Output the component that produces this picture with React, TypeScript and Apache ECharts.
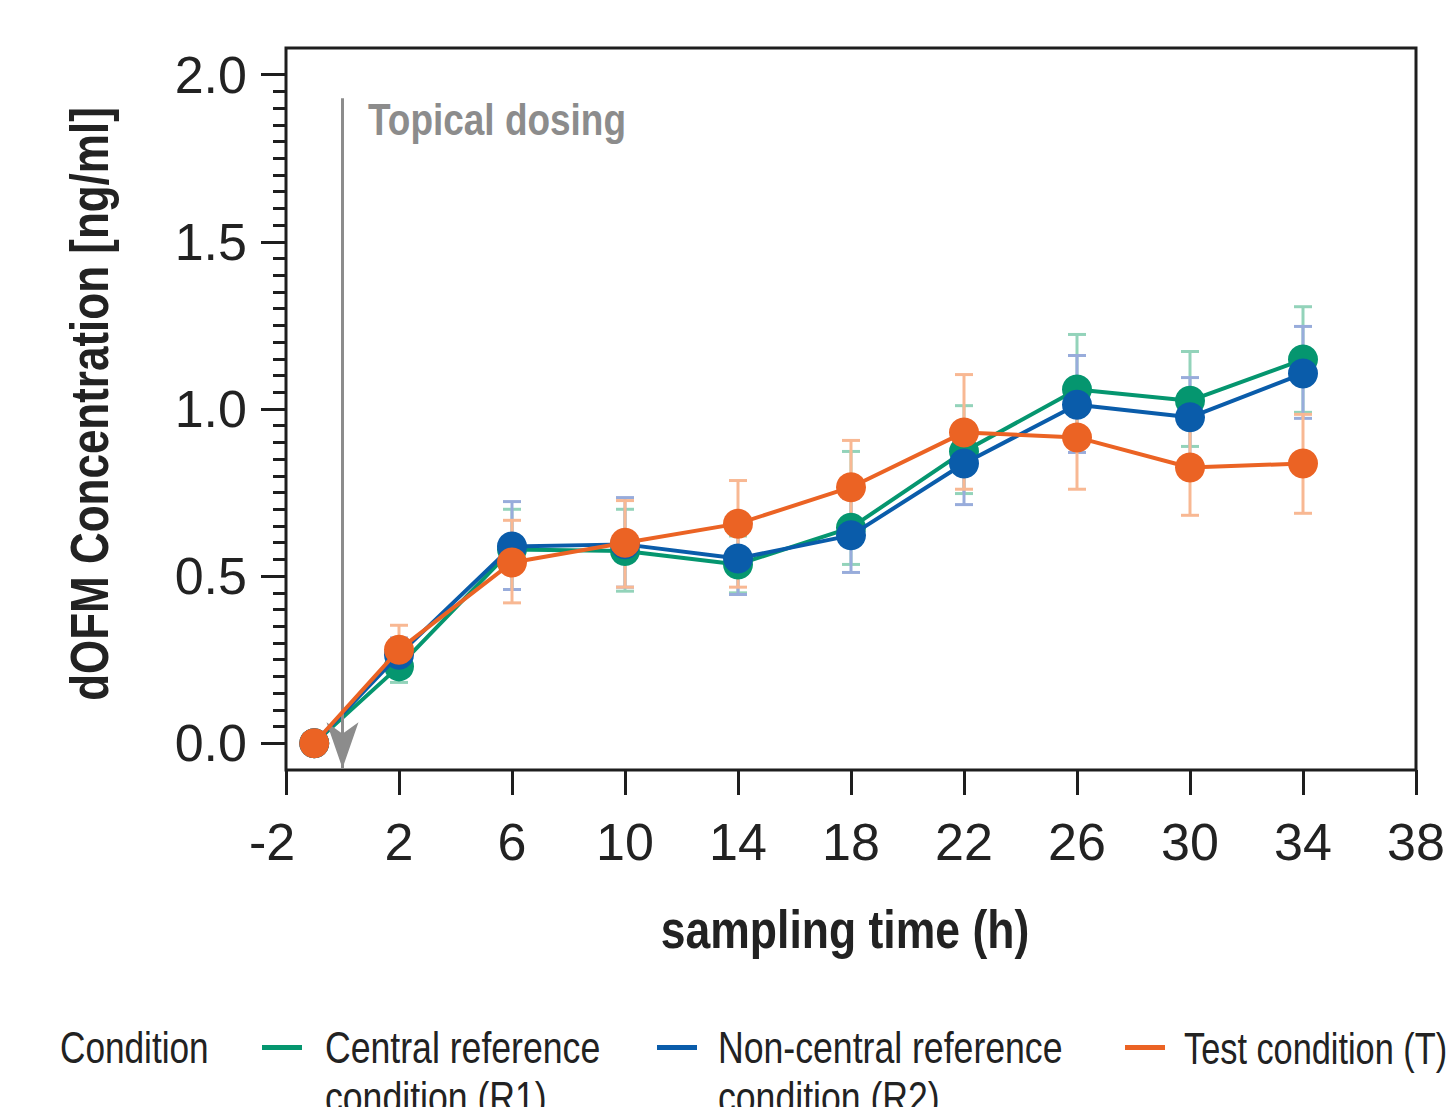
import React, { useEffect, useRef } from "react";
import * as echarts from "echarts";

const times = [-1, 2, 6, 10, 14, 18, 22, 26, 30, 34];

const r1Mean = [0, 0.23, 0.58, 0.575, 0.535, 0.645, 0.873, 1.058, 1.025, 1.148];
const r1Low = [0, 0.182, 0.46, 0.455, 0.45, 0.535, 0.747, 0.893, 0.888, 0.99];
const r1High = [0, 0.28, 0.7, 0.7, 0.62, 0.873, 1.01, 1.223, 1.172, 1.306];

const r2Mean = [0, 0.265, 0.589, 0.595, 0.553, 0.622, 0.837, 1.013, 0.975, 1.106];
const r2Low = [0, 0.215, 0.46, 0.467, 0.445, 0.511, 0.714, 0.87, 0.855, 0.972];
const r2High = [0, 0.315, 0.723, 0.735, 0.66, 0.733, 0.96, 1.16, 1.094, 1.247];

const tMean = [0, 0.28, 0.541, 0.6, 0.657, 0.766, 0.93, 0.915, 0.825, 0.837];
const tLow = [0, 0.208, 0.42, 0.467, 0.467, 0.625, 0.76, 0.76, 0.682, 0.688];
const tHigh = [0, 0.353, 0.667, 0.726, 0.786, 0.906, 1.103, 1.07, 0.968, 0.984];

const xTicks = [-2, 2, 6, 10, 14, 18, 22, 26, 30, 34, 38];
const yTicks = [0, 0.5, 1.0, 1.5, 2.0];
const yMinorTicks = Array.from({ length: 41 }, (_, i) => Math.round(i * 5) / 100);

const seriesNames = [
  "Central reference condition (R1)",
  "Non-central reference condition (R2)",
  "Test condition (T)",
];
const legendLabels = [
  "Central reference\ncondition (R1)",
  "Non-central reference\ncondition (R2)",
  "Test condition (T)",
];
const legendTitle = "Condition";
const xTitle = "sampling time (h)";
const yTitle = "dOFM Concentration [ng/ml]";
const annotation = "Topical dosing";

const COLORS = ["#05966f", "#0a5caa", "#eb6324"];
const ERR_COLORS = ["#93d3ba", "#98acdb", "#f8b893"];

const FONT = "'Liberation Sans', Arial, Helvetica, sans-serif";
const INK = "#222222";
const AXIS = "#1e1e1e";

function errData(low: number[], high: number[]) {
  const out: number[][] = [];
  for (let i = 0; i < times.length; i++) {
    if (high[i] - low[i] > 0) out.push([times[i], low[i], high[i]]);
  }
  return out;
}

function errSeries(idx: number, low: number[], high: number[]) {
  return {
    type: "custom",
    name: seriesNames[idx] + " error",
    z: 1,
    silent: true,
    data: errData(low, high),
    encode: { x: 0, y: [1, 2] },
    renderItem: (params: any, api: any) => {
      const x = api.value(0);
      const lo = api.coord([x, api.value(1)]);
      const hi = api.coord([x, api.value(2)]);
      const hw = 9;
      const style = { stroke: ERR_COLORS[idx], lineWidth: 3, fill: "none" };
      return {
        type: "group",
        children: [
          { type: "line", shape: { x1: lo[0], y1: lo[1], x2: hi[0], y2: hi[1] }, style },
          { type: "line", shape: { x1: lo[0] - hw, y1: lo[1], x2: lo[0] + hw, y2: lo[1] }, style },
          { type: "line", shape: { x1: hi[0] - hw, y1: hi[1], x2: hi[0] + hw, y2: hi[1] }, style },
        ],
      };
    },
  };
}

function lineSeries(idx: number, mean: number[], extra: any = {}) {
  return {
    type: "line",
    name: seriesNames[idx],
    z: 3 + idx,
    data: times.map((t, i) => [t, mean[i]]),
    symbol: "circle",
    symbolSize: 30,
    itemStyle: { color: COLORS[idx] },
    lineStyle: { color: COLORS[idx], width: 4 },
    ...extra,
  };
}

function legendItem(idx: number, swatchX: number, textX: number, sx: number) {
  return [
    {
      type: "rect",
      shape: { x: swatchX, y: 1045, width: 40, height: 5 },
      style: { fill: COLORS[idx] },
    },
    {
      type: "text",
      x: textX,
      y: 1023,
      scaleX: sx,
      style: {
        text: legendLabels[idx],
        fontFamily: FONT,
        fontSize: 44,
        lineHeight: 50,
        fill: INK,
        align: "left",
        verticalAlign: "top",
      },
    },
  ];
}

export default function App() {
  const ref = useRef<HTMLDivElement>(null);
  useEffect(() => {
    if (!ref.current) return;
    const chart = echarts.init(ref.current, null, { renderer: "svg" });
    const tickLabel = { fontFamily: FONT, fontSize: 52, color: INK };
    const option: any = {
      animation: false,
      backgroundColor: "#ffffff",
      grid: {
        left: 286,
        right: 39,
        top: 48,
        bottom: 345,
        show: true,
        borderColor: AXIS,
        borderWidth: 3,
        backgroundColor: "transparent",
      },
      xAxis: {
        type: "value",
        min: -2,
        max: 38,
        axisLine: { show: false, onZero: false },
        splitLine: { show: false },
        axisTick: {
          show: true,
          customValues: xTicks,
          length: 25,
          lineStyle: { color: AXIS, width: 3 },
        },
        axisLabel: {
          customValues: xTicks,
          margin: 46,
          ...tickLabel,
          formatter: (v: number) => (v < 0 ? "{neg|" + v + "}" : String(v)),
          rich: {
            neg: { fontFamily: FONT, fontSize: 52, color: INK, padding: [0, 28, 0, 0] },
          },
        },
      },
      yAxis: [
        {
          type: "value",
          min: -0.08,
          max: 2.08,
          axisLine: { show: false, onZero: false },
          splitLine: { show: false },
          axisTick: {
            show: true,
            customValues: yTicks,
            length: 25,
            lineStyle: { color: AXIS, width: 3 },
          },
          axisLabel: {
            customValues: yTicks,
            margin: 39,
            padding: [10, 0, 0, 0],
            ...tickLabel,
            formatter: (v: number) => v.toFixed(1),
          },
        },
        {
          type: "value",
          min: -0.08,
          max: 2.08,
          position: "left",
          axisLine: { show: false, onZero: false },
          splitLine: { show: false },
          axisLabel: { show: false },
          axisTick: {
            show: true,
            customValues: yMinorTicks,
            length: 13,
            lineStyle: { color: AXIS, width: 3 },
          },
        },
      ],
      graphic: [
        {
          type: "text",
          x: 90,
          y: 404,
          rotation: Math.PI / 2,
          scaleX: 0.83,
          style: {
            text: yTitle,
            fontFamily: FONT,
            fontSize: 53,
            fontWeight: "bold",
            fill: INK,
            align: "center",
            verticalAlign: "middle",
          },
        },
        {
          type: "text",
          x: 845,
          y: 930,
          scaleX: 0.84,
          style: {
            text: xTitle,
            fontFamily: FONT,
            fontSize: 53,
            fontWeight: "bold",
            fill: INK,
            align: "center",
            verticalAlign: "middle",
          },
        },
        {
          type: "text",
          x: 368,
          y: 120,
          scaleX: 0.84,
          style: {
            text: annotation,
            fontFamily: FONT,
            fontSize: 44,
            fontWeight: "bold",
            fill: "#8c8c8c",
            align: "left",
            verticalAlign: "middle",
          },
        },
        {
          type: "text",
          x: 60,
          y: 1023,
          scaleX: 0.8,
          style: {
            text: legendTitle,
            fontFamily: FONT,
            fontSize: 44,
            lineHeight: 50,
            fill: INK,
            align: "left",
            verticalAlign: "top",
          },
        },
        ...legendItem(0, 262, 325, 0.81),
        ...legendItem(1, 657, 718, 0.81),
        ...legendItem(2, 1125, 1184, 0.78),
      ],
      series: [
        errSeries(0, r1Low, r1High),
        errSeries(1, r2Low, r2High),
        errSeries(2, tLow, tHigh),
        lineSeries(0, r1Mean),
        lineSeries(1, r2Mean),
        lineSeries(2, tMean, {
          markLine: {
            silent: true,
            symbol: ["none", "arrow"],
            symbolSize: [24, 46],
            label: { show: false },
            lineStyle: { color: "#8c8c8c", width: 3, type: "solid" },
            data: [[{ coord: [0, 1.93] }, { coord: [0, -0.075] }]],
          },
        }),
      ],
    };
    chart.setOption(option);
    return () => chart.dispose();
  }, []);
  return <div ref={ref} style={{ width: 1455, height: 1115, margin: -8 }} />;
}
